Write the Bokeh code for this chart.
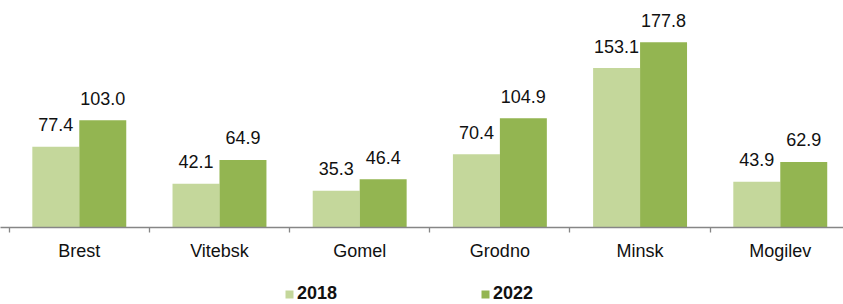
from bokeh.plotting import figure
from bokeh.layouts import column
from bokeh.models import Range1d, FixedTicker, Legend, LegendItem, ColumnDataSource
from bokeh.core.properties import value
from bokeh.embed import file_html
from bokeh.resources import INLINE

regions = ["Brest", "Vitebsk", "Gomel", "Grodno", "Minsk", "Mogilev"]
v2018 = [77.4, 42.1, 35.3, 70.4, 153.1, 43.9]
v2022 = [103.0, 64.9, 46.4, 104.9, 177.8, 62.9]
series = ["2018", "2022"]

C2018 = "#c4d79b"
C2022 = "#93b551"
FONT = "Liberation Sans"

centers = [i + 0.5 for i in range(len(regions))]
bw = 0.335
x18 = [c - bw / 2 for c in centers]
x22 = [c + bw / 2 for c in centers]

src18 = ColumnDataSource(dict(x=x18, top=v2018, lab=[f"{v:.1f}" for v in v2018]))
src22 = ColumnDataSource(dict(x=x22, top=v2022, lab=[f"{v:.1f}" for v in v2022]))

p = figure(width=843, height=270, output_backend="svg", toolbar_location=None,
           x_range=Range1d(-0.062, 5.951), y_range=Range1d(0, 217.9),
           y_axis_location=None, min_border_left=0, min_border_right=0,
           min_border_top=0, min_border_bottom=43)
p.outline_line_color = None
p.xgrid.visible = False
p.ygrid.visible = False

p.vbar(x="x", top="top", width=bw, source=src18, fill_color=C2018, line_color=None)
p.vbar(x="x", top="top", width=bw, source=src22, fill_color=C2022, line_color=None)

for src in (src18, src22):
    p.text(x="x", y="top", text="lab", source=src, text_align="center",
           text_baseline="alphabetic", y_offset=-22, text_font=value(FONT),
           text_font_size="18px", text_color="#111111")

ax = p.xaxis[0]
ax.ticker = FixedTicker(ticks=centers, minor_ticks=list(range(len(regions) + 1)))
ax.major_label_overrides = {c: r for c, r in zip(centers, regions)}
ax.major_tick_out = 0
ax.major_tick_in = 0
ax.minor_tick_out = 5
ax.minor_tick_in = 0
ax.axis_line_color = "#868686"
ax.axis_line_width = 1.3
ax.minor_tick_line_color = "#868686"
ax.minor_tick_line_width = 1.3
ax.major_label_standoff = 8
ax.major_label_text_font = FONT
ax.major_label_text_font_size = "18px"
ax.major_label_text_color = "#111111"

# legend strip (proxy renderers placed outside the visible range)
p2 = figure(width=843, height=34, output_backend="svg", toolbar_location=None,
            x_range=Range1d(0, 1), y_range=Range1d(0, 1),
            x_axis_location=None, y_axis_location=None,
            min_border_left=0, min_border_right=0, min_border_top=0, min_border_bottom=0)
p2.outline_line_color = None
p2.xgrid.visible = False
p2.ygrid.visible = False
l18 = p2.vbar(x=[-5], top=[0], width=1, fill_color=C2018, line_color=None)
l22 = p2.vbar(x=[-5], top=[0], width=1, fill_color=C2022, line_color=None)

legend = Legend(items=[LegendItem(label=series[0], renderers=[l18]),
                       LegendItem(label=series[1], renderers=[l22])],
                orientation="horizontal", location=(284, 0),
                padding=0, margin=0, spacing=143,
                glyph_width=10, glyph_height=10, label_standoff=3,
                label_text_font=FONT, label_text_font_size="18px",
                label_text_font_style="bold", label_text_color="#111111",
                border_line_color=None, background_fill_alpha=0)
p2.add_layout(legend, "center")

layout = column(p, p2, spacing=0)
open("out.html", "w").write(file_html(layout, INLINE))
